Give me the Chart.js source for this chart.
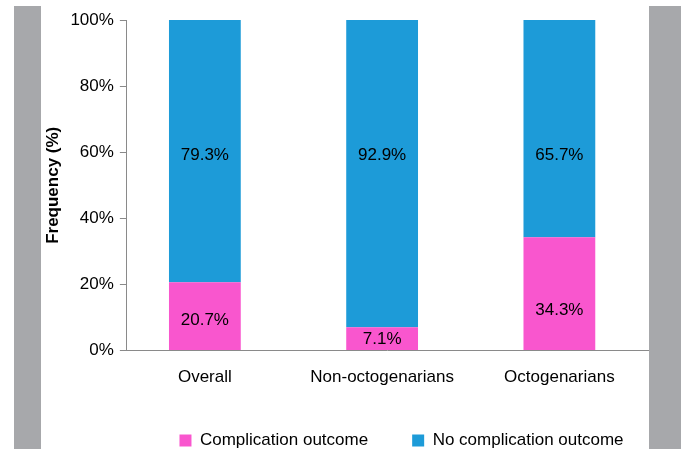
<!DOCTYPE html>
<html>
<head>
<meta charset="utf-8">
<script src="https://cdn.jsdelivr.net/npm/chart.js@4/dist/chart.umd.min.js"></script>
<style>
    body { margin: 0; background: #fff; }
    #wrap { position: relative; width: 681px; height: 449px; overflow: hidden; }
    .band { position: absolute; top: 6px; bottom: 0; background: #a7a8ab; }
    #chart { position: absolute; left: 0; top: 0; z-index: 1; }
</style>
</head>
<body>
<div id="wrap">
    <div class="band" style="left:14px;width:27px"></div>
    <div class="band" style="left:649px;width:32px"></div>
    <canvas id="chart" width="681" height="449"></canvas>
</div>
<script>
// values
const categories = ['Overall', 'Non-octogenarians', 'Octogenarians'];
const complication = [20.7, 7.1, 34.3];
const noComplication = [79.3, 92.9, 65.7];
const yTicks = [0, 20, 40, 60, 80, 100];

const FONT = '"Liberation Sans", Arial, Helvetica, sans-serif';
const AXIS = '#8a8a8a';

// percentage text inside each bar segment
const segmentLabels = {
    id: 'segmentLabels',
    afterDatasetsDraw(chart, args, opts) {
        const ctx = chart.ctx;
        const y = chart.scales.y;
        ctx.save();
        ctx.font = '17px ' + FONT;
        ctx.fillStyle = '#000';
        ctx.textAlign = 'center';
        ctx.textBaseline = 'middle';
        chart.data.datasets.forEach((ds, d) => {
            chart.getDatasetMeta(d).data.forEach((bar, i) => {
                const v = ds.data[i].y;
                ctx.fillText(v.toFixed(1) + '%', bar.x, y.getPixelForValue(opts.at[d][i]));
            });
        });
        ctx.restore();
    }
};

// legend sits right of centre in the original
const legendShift = {
    id: 'legendShift',
    afterLayout(chart, args, opts) {
        const lg = chart.legend;
        lg.left += opts.dx;
        lg.right += opts.dx;
        lg.top += opts.dy;
        lg.bottom += opts.dy;
    }
};

new Chart(document.getElementById('chart').getContext('2d'), {
    type: 'bar',
    data: {
        datasets: [{
            label: 'Complication outcome',
            data: complication.map((v, i) => ({ x: i, y: v })),
            backgroundColor: '#f956ce',
            borderWidth: 0
        }, {
            label: 'No complication outcome',
            data: noComplication.map((v, i) => ({ x: i, y: v })),
            backgroundColor: '#1d9bd8',
            borderWidth: 0
        }]
    },
    options: {
        responsive: false,
        animation: false,
        categoryPercentage: 1,
        barPercentage: 0.405,
        layout: {
            padding: { left: 39, right: 33, top: 20, bottom: -27 }
        },
        plugins: {
            legend: {
                position: 'bottom',
                labels: {
                    boxWidth: 12,
                    boxHeight: 12,
                    padding: 44,
                    color: '#000',
                    font: { family: FONT, size: 17 }
                }
            },
            tooltip: { enabled: false },
            segmentLabels: {
                at: [[9.1, 3.4, 12.1], [59, 59, 59]]
            },
            legendShift: { dx: 58, dy: -17 }
        },
        scales: {
            x: {
                type: 'linear',
                stacked: true,
                offset: false,
                min: -0.44,
                max: 2.5,
                afterBuildTicks: (scale) => {
                    scale.ticks = categories.map((c, i) => ({ value: i }));
                },
                grid: { display: false, drawTicks: false },
                border: { display: true, color: AXIS, width: 1 },
                ticks: {
                    padding: 17,
                    color: '#000',
                    font: { family: FONT, size: 17 },
                    callback: (v) => categories[v]
                }
            },
            y: {
                stacked: true,
                min: 0,
                max: 100,
                afterBuildTicks: (scale) => {
                    scale.ticks = yTicks.map(v => ({ value: v }));
                },
                grid: {
                    drawOnChartArea: false,
                    tickLength: 7,
                    color: AXIS
                },
                border: { display: true, color: AXIS, width: 1 },
                ticks: {
                    padding: 6,
                    color: '#000',
                    font: { family: FONT, size: 17 },
                    callback: (v) => v + '%'
                },
                title: {
                    display: true,
                    text: 'Frequency (%)',
                    color: '#000',
                    font: { family: FONT, size: 17, weight: 'bold' },
                    padding: { top: 4, bottom: 1 }
                }
            }
        }
    },
    plugins: [segmentLabels, legendShift]
});
</script>
</body>
</html>
